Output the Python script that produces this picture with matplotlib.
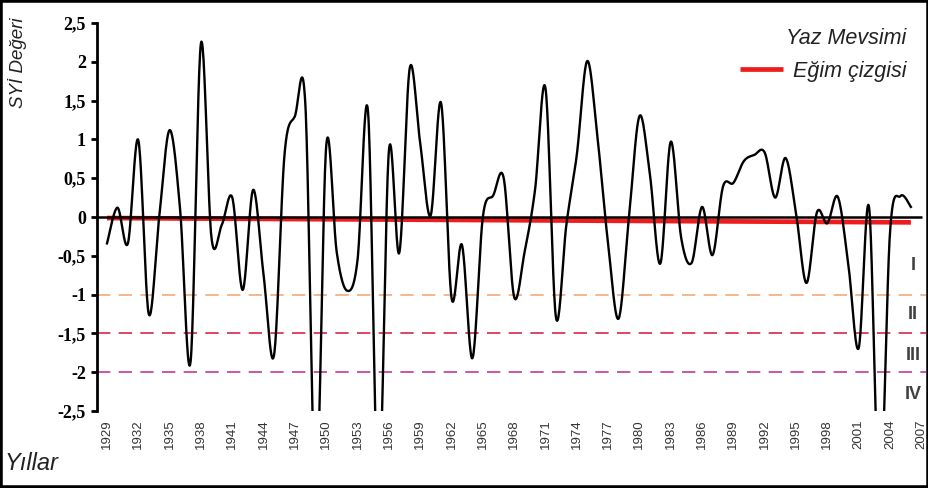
import numpy as np
import matplotlib
matplotlib.use("Agg")
import matplotlib.pyplot as plt
from matplotlib.patches import Rectangle

# summer SPI series, one value per year
years = np.arange(1929, 2007)
spi = [-0.34, 0.12, -0.34, 0.99, -1.25, 0.0, 1.12, 0.1, -1.87, 2.24,
       -0.26, -0.1, 0.25, -0.94, 0.35, -0.75, -1.78, 0.8, 1.3, 1.45,
       -3.6, 0.92, -0.45, -0.95, -0.55, 1.36, -3.6, 0.85, -0.46, 1.92,
       0.95, 0.02, 1.47, -1.04, -0.36, -1.82, 0.0, 0.28, 0.5, -1.03,
       -0.45, 0.35, 1.66, -1.29, -0.1, 0.8, 2.01, 1.0, -0.35, -1.31,
       0.0, 1.3, 0.55, -0.6, 0.97, -0.27, -0.59, 0.13, -0.49, 0.39,
       0.44, 0.72, 0.8, 0.83, 0.25, 0.76, 0.05, -0.85, 0.06, -0.08,
       0.26, -0.6, -1.69, 0.12, -3.7, -0.2, 0.27, 0.13]

tick_years = np.arange(1929, 2008, 3)
ytick_vals = np.arange(-2.5, 2.51, 0.5)
ytick_labels = ["-2,5", "-2", "-1,5", "-1", "-0,5", "0", "0,5", "1", "1,5", "2", "2,5"]

# drought class limits
thresholds = [-1.0, -1.5, -2.0]
threshold_colors = ["#f2a978", "#d4264a", "#c2399a"]
class_names = ["I", "II", "III", "IV"]


def smooth_line(x, y, n=25):
    # bezier smoothing like the spreadsheet "smoothed line" option
    x = np.asarray(x, float)
    y = np.asarray(y, float)
    xp = np.r_[x[0], x, x[-1]]
    yp = np.r_[y[0], y, y[-1]]
    t = np.linspace(0, 1, n)
    xs, ys = [], []
    for i in range(len(x) - 1):
        p0 = np.array([xp[i], yp[i]])
        p1 = np.array([xp[i + 1], yp[i + 1]])
        p2 = np.array([xp[i + 2], yp[i + 2]])
        p3 = np.array([xp[i + 3], yp[i + 3]])
        c1 = p1 + (p2 - p0) / 6
        c2 = p2 - (p3 - p1) / 6
        pts = ((1 - t) ** 3)[:, None] * p1 + (3 * (1 - t) ** 2 * t)[:, None] * c1 \
            + (3 * (1 - t) * t ** 2)[:, None] * c2 + (t ** 3)[:, None] * p2
        xs.append(pts[:, 0])
        ys.append(pts[:, 1])
    return np.concatenate(xs), np.concatenate(ys)


fig = plt.figure(figsize=(9.29, 4.88), dpi=100)
ax = fig.add_axes([97 / 929, 77 / 488, 829 / 929, 388 / 488])

x_left = 1929 - 10 / 10.44
x_right = 1929 + 819 / 10.44
ax.set_xlim(x_left, x_right)
ax.set_ylim(-2.5, 2.5)

for val, col in zip(thresholds, threshold_colors):
    ax.axhline(val, color=col, lw=1.2, ls=(0, (8, 5)), zorder=1)

# linear trend of the series
slope, icpt = np.polyfit(years, spi, 1)
trend_x = np.array([years[0], years[-1]])
trend, = ax.plot(trend_x, slope * trend_x + icpt, color="#ee1c1c", lw=3.4,
                 solid_capstyle="butt", zorder=2, label="Eğim çizgisi")

ax.hlines(0, x_left, 2007.05, color="black", lw=1.8, zorder=3)

sx, sy = smooth_line(years, spi)
ax.plot(sx, sy, color="black", lw=1.7, zorder=4)

for name, yv in zip(class_names, [-0.62, -1.26, -1.78, -2.29]):
    ax.text(2006.2, yv, name, ha="center", va="center", fontsize=13,
            fontweight="bold", color="#404040", family="Liberation Sans")

for s in ["top", "right", "bottom"]:
    ax.spines[s].set_visible(False)
ax.spines["left"].set_linewidth(2.0)

ax.set_yticks(ytick_vals)
ax.set_yticklabels(ytick_labels, family="Liberation Serif", fontweight="bold",
                   fontsize=13)
ax.tick_params(axis="y", direction="out", length=4, width=2, pad=4)

ax.set_xticks(tick_years)
ax.set_xticklabels([str(y) for y in tick_years], rotation=90,
                   family="Liberation Sans", fontsize=9.5, color="#333333")
ax.tick_params(axis="x", length=0, pad=6)

leg = ax.legend(handles=[trend], loc="upper right", bbox_to_anchor=(0.976, 0.903),
                frameon=False, borderpad=0, borderaxespad=0,
                handlelength=2.0, handletextpad=0.45,
                prop={"family": "Liberation Sans", "style": "italic", "size": 15.5})
for txt in leg.get_texts():
    txt.set_color("#222222")

ax.text(0.976, 0.988, "Yaz Mevsimi", transform=ax.transAxes, ha="right", va="top",
        fontsize=15.5, style="italic", family="Liberation Sans", color="#222222")

fig.text(18 / 929, 1 - 17 / 488, "SYİ Değeri", rotation=90, ha="center", va="top",
         fontsize=13.5, style="italic", family="Liberation Sans", color="#222222")
fig.text(5 / 929, 1 - 463 / 488, "Yıllar", ha="left", va="center",
         fontsize=17, style="italic", family="Liberation Sans", color="#222222")

fig.patches.append(Rectangle((0, 0), 1, 1, transform=fig.transFigure, fill=False,
                             lw=4, ec="black"))

fig.savefig("out.png", dpi=100)
